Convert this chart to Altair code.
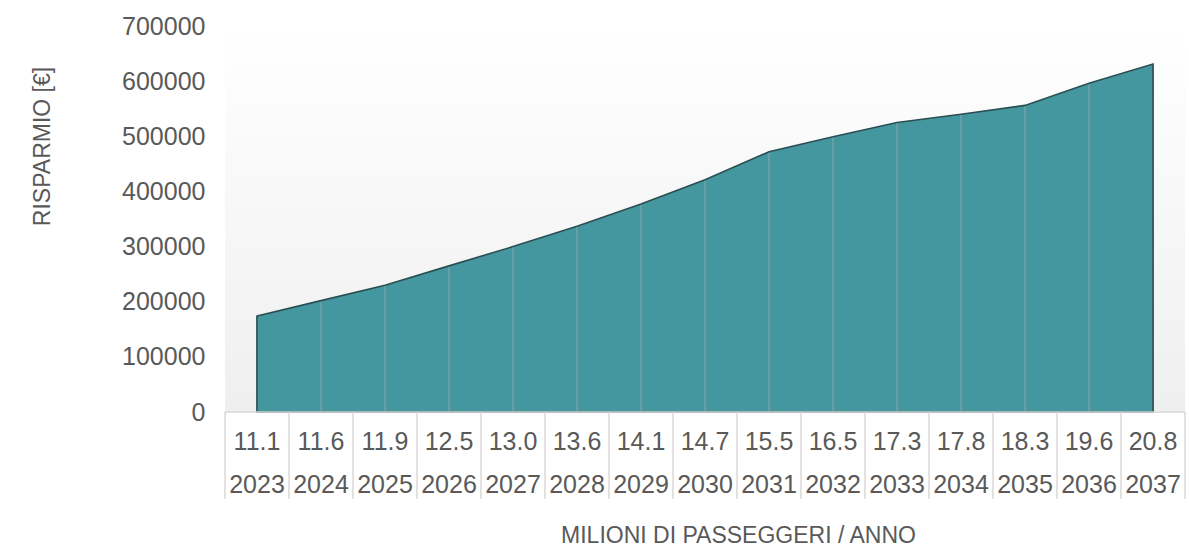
import altair as alt
import pandas as pd

# ---- data ----
years = ["2023", "2024", "2025", "2026", "2027", "2028", "2029", "2030",
         "2031", "2032", "2033", "2034", "2035", "2036", "2037"]
passengers = ["11.1", "11.6", "11.9", "12.5", "13.0", "13.6", "14.1", "14.7",
              "15.5", "16.5", "17.3", "17.8", "18.3", "19.6", "20.8"]
savings = [174000, 202000, 230000, 265000, 300000, 337000, 377000, 421000,
           472000, 499000, 525000, 540000, 556000, 596000, 631000]
y_ticks = [0, 100000, 200000, 300000, 400000, 500000, 600000, 700000]

W, H = 960, 386
FONT = "Liberation Sans"
TXT = "#595959"
GRIDC = "#d9d9d9"

n = len(years)
df = pd.DataFrame({"i": list(range(n)), "year": years, "pax": passengers, "saving": savings})
bounds = pd.DataFrame({"b": [k - 0.5 for k in range(n + 1)]})

xscale = alt.Scale(domain=[-0.5, n - 0.5], nice=False, zero=False)
yscale = alt.Scale(domain=[0, 700000], nice=False)

xaxis = alt.Axis(labels=False, ticks=False, domain=False, grid=False,
                 title="MILIONI DI PASSEGGERI / ANNO", titleFont=FONT, titleFontSize=23,
                 titleFontWeight="normal", titleColor=TXT, titleX=513, titleY=123,
                 titleBaseline="middle", titleAlign="center")
yaxis = alt.Axis(values=y_ticks, format="d", ticks=False, domain=False, grid=False,
                 labelFont=FONT, labelFontSize=25, labelColor=TXT, labelPadding=20,
                 title="RISPARMIO [€]", titleFont=FONT, titleFontSize=23,
                 titleFontWeight="normal", titleColor=TXT, titleX=-183, titleY=120,
                 titleAngle=-90, titleBaseline="middle", titleAlign="center")

bg = alt.Chart(pd.DataFrame({"a": [0]})).mark_rect(
    color=alt.LinearGradient(gradient="linear",
                             stops=[alt.GradientStop(color="#ffffff", offset=0),
                                    alt.GradientStop(color="#efefef", offset=1)],
                             x1=0, x2=0, y1=0, y2=1)
).encode(x=alt.value(0), x2=alt.value(W), y=alt.value(0), y2=alt.value(H))

base = alt.Chart(df)

area = base.mark_area(fill="#45979f", strokeWidth=0, opacity=1).encode(
    x=alt.X("i:Q", scale=xscale, axis=xaxis),
    y=alt.Y("saving:Q", scale=yscale, axis=yaxis),
)

grid = base.mark_rule(color="#74a2a6", strokeWidth=1.5).encode(
    x=alt.X("i:Q", scale=xscale),
    y=alt.Y("saving:Q", scale=yscale),
    y2=alt.datum(0),
)

outline = base.mark_area(fillOpacity=0, fill="#45979f", stroke="#2b4e52", strokeWidth=1.6).encode(
    x=alt.X("i:Q", scale=xscale),
    y=alt.Y("saving:Q", scale=yscale),
)

# table under the axis
hline = alt.Chart(pd.DataFrame({"a": [0]})).mark_rule(color=GRIDC, strokeWidth=1.5).encode(
    x=alt.value(0), x2=alt.value(W), y=alt.value(H)
)
vlines = alt.Chart(bounds).mark_rule(color=GRIDC, strokeWidth=1.5).encode(
    x=alt.X("b:Q", scale=xscale), y=alt.value(H), y2=alt.value(H + 87)
)
row1 = base.mark_text(font=FONT, fontSize=25, color=TXT, baseline="middle").encode(
    x=alt.X("i:Q", scale=xscale), y=alt.value(416), text="pax:N"
)
row2 = base.mark_text(font=FONT, fontSize=25, color=TXT, baseline="middle").encode(
    x=alt.X("i:Q", scale=xscale), y=alt.value(459), text="year:N"
)

chart = alt.layer(bg, area, grid, outline, hline, vlines, row1, row2).properties(
    width=W, height=H,
    autosize=alt.AutoSizeParams(type="none"),
    padding={"left": 225, "top": 26, "right": 4, "bottom": 136},
    background="#ffffff",
).configure_view(stroke=None)

chart.save("out.html", embed_options={"renderer": "svg", "actions": False})
